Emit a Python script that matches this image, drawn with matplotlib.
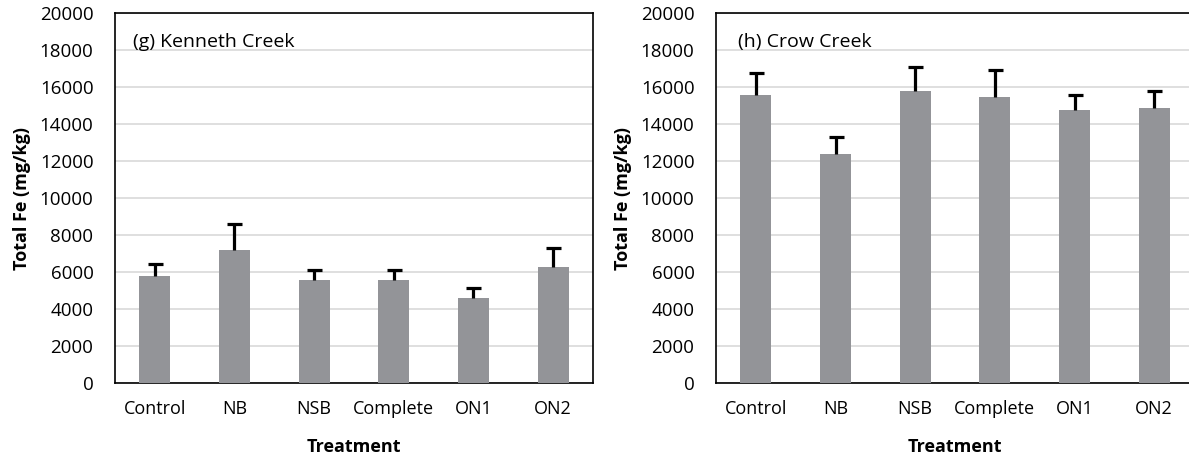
import numpy as np
import matplotlib
matplotlib.use("Agg")
import matplotlib.pyplot as plt
from matplotlib import rcParams

rcParams['font.family'] = ['Open Sans', 'DejaVu Sans']

# --- data ---
treatments = ["Control", "NB", "NSB", "Complete", "ON1", "ON2"]

kenneth_mean = [5750, 7200, 5550, 5550, 4600, 6250]
kenneth_err = [700, 1400, 550, 550, 550, 1050]

crow_mean = [15600, 12400, 15800, 15450, 14750, 14850]
crow_err = [1150, 900, 1300, 1500, 800, 950]

panel_titles = ["(g) Kenneth Creek", "(h) Crow Creek"]
y_ticks = list(range(0, 20001, 2000))

W, H = 1189, 461
fig = plt.figure(figsize=(W / 100, H / 100), dpi=100, facecolor="white")

bar_color = "#939498"
grid_color = "#d6d6d6"

# axes boxes in pixels: left, bottom spine, width, height
boxes = [(115, 382.7, 478, 369.4), (716, 382.7, 478, 369.4)]
title_x = [0.038, 0.046]

for i, (means, errs) in enumerate([(kenneth_mean, kenneth_err), (crow_mean, crow_err)]):
    l, b, w, h = boxes[i]
    ax = fig.add_axes([l / W, (H - b) / H, w / W, h / H])
    x = np.arange(len(treatments))
    ax.bar(x, means, width=0.39, color=bar_color, zorder=3)
    eb = ax.errorbar(x, means, yerr=[np.zeros(len(errs)), errs], fmt="none",
                     ecolor="black", elinewidth=2.3, capsize=5.4, capthick=2.3, zorder=4)
    # only the upper cap is drawn in the original
    eb[1][0].set_visible(False)

    ax.set_xlim(-0.5, len(treatments) - 0.5)
    ax.set_ylim(0, 20000)
    ax.set_yticks(y_ticks)
    ax.set_yticklabels([str(v) for v in y_ticks])
    ax.set_xticks(x)
    ax.set_xticklabels(treatments)
    ax.tick_params(axis="both", length=0, colors="black")
    ax.tick_params(axis="y", pad=15.5, labelsize=13.5)
    ax.tick_params(axis="x", pad=12.5, labelsize=13)

    ax.yaxis.grid(True, color=grid_color, linewidth=1.1, zorder=0)
    ax.set_axisbelow(True)
    for s in ax.spines.values():
        s.set_linewidth(1.2)
        s.set_color("black")

    ax.set_ylabel("Total Fe (mg/kg)", fontsize=13, fontweight="bold")
    ax.yaxis.set_label_coords(-93 / w, 0.5)
    ax.set_xlabel("Treatment", fontsize=13, fontweight="bold")
    ax.xaxis.set_label_coords(0.5, -(447 - b) / h)
    ax.xaxis.label.set_va("center")
    ax.yaxis.label.set_va("center")

    ax.text(title_x[i], 0.91, panel_titles[i], transform=ax.transAxes,
            fontsize=14, va="baseline", ha="left")

fig.savefig("out.png", dpi=100, facecolor="white")
